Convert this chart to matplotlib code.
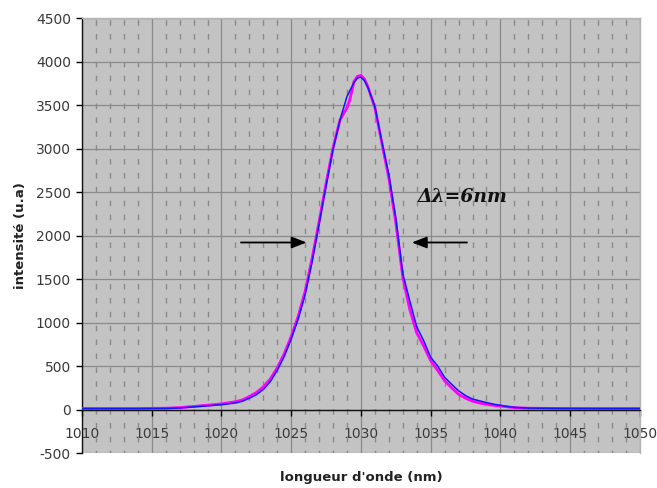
import matplotlib
matplotlib.use("Agg")
import matplotlib.pyplot as plt
from matplotlib.ticker import MultipleLocator

plt.rcParams["axes.unicode_minus"] = False
plt.rcParams["font.family"] = ["DejaVu Sans"]

# ---- data ----
wl_blue = [1010, 1012, 1014, 1016, 1017, 1018, 1019, 1020, 1021, 1021.5, 1022, 1022.5,
           1023, 1023.5, 1024, 1024.5, 1025, 1025.5, 1026, 1026.5, 1027, 1027.5, 1028,
           1028.5, 1029, 1029.5, 1029.75, 1030, 1030.25, 1030.5, 1031, 1031.5, 1032,
           1032.5, 1033, 1033.5, 1034, 1034.5, 1035, 1035.5, 1036, 1036.5, 1037, 1037.5,
           1038, 1038.5, 1039, 1039.5, 1040, 1040.5, 1041, 1041.5, 1042, 1044, 1047, 1050]
int_blue = [10, 10, 10, 12, 18, 30, 42, 55, 75, 95, 130, 170,
            230, 320, 450, 610, 810, 1040, 1320, 1700, 2130, 2570, 2990,
            3330, 3600, 3760, 3810, 3820, 3780, 3700, 3480, 3080, 2700,
            2200, 1560, 1250, 950, 790, 600, 500, 370, 290, 215, 160,
            120, 100, 80, 62, 48, 35, 25, 20, 16, 12, 10, 10]

wl_mag = [1010, 1012, 1014, 1016, 1017, 1018, 1019, 1020, 1021, 1021.5, 1022, 1022.5,
          1023, 1023.5, 1024, 1024.5, 1025, 1025.5, 1026, 1026.5, 1027, 1027.5, 1028,
          1028.5, 1029, 1029.2, 1029.5, 1029.75, 1030, 1030.25, 1030.5, 1031, 1031.5,
          1032, 1032.5, 1033, 1033.5, 1034, 1034.5, 1035, 1035.5, 1036, 1036.5, 1037,
          1037.5, 1038, 1038.5, 1039, 1039.5, 1040, 1040.5, 1041, 1041.5, 1042, 1044,
          1047, 1050]
int_mag = [12, 12, 12, 15, 22, 35, 50, 65, 90, 110, 150, 195,
           260, 350, 480, 640, 840, 1070, 1360, 1740, 2160, 2600, 3010,
           3330, 3470, 3560, 3770, 3830, 3840, 3800, 3710, 3470, 3060,
           2660, 2150, 1520, 1150, 880, 730, 560, 450, 330, 250, 175,
           130, 95, 75, 60, 48, 40, 30, 22, 18, 15, 12,
           12, 12]

x_ticks = [1010, 1015, 1020, 1025, 1030, 1035, 1040, 1045, 1050]
y_ticks = [-500, 0, 500, 1000, 1500, 2000, 2500, 3000, 3500, 4000, 4500]

fig = plt.figure(figsize=(6.57, 4.88), dpi=100)
ax = fig.add_axes([0.1248, 0.0717, 0.8492, 0.8913])
ax.set_facecolor("#c3c3c3")

ax.set_xlim(1010, 1050)
ax.set_ylim(-500, 4500)
ax.set_xticks(x_ticks)
ax.set_yticks(y_ticks)
ax.xaxis.set_minor_locator(MultipleLocator(1))

# grid
ax.grid(which="major", axis="both", color="#8a8a8a", linewidth=0.9, linestyle="-")
ax.grid(which="minor", axis="x", color="#8a8a8a", linewidth=1.0, linestyle=(2, (4, 6)))
ax.set_axisbelow(True)
ax.tick_params(which="minor", length=0)

# curves
ax.plot(wl_mag, int_mag, color="#ff00ff", linewidth=2.0, zorder=3)
ax.plot(wl_blue, int_blue, color="#1414ff", linewidth=1.1, zorder=4)

# spines
ax.spines["bottom"].set_position(("data", 0))
ax.spines["bottom"].set_color("#111111")
ax.spines["bottom"].set_linewidth(1.0)
ax.spines["left"].set_color("#111111")
ax.spines["left"].set_linewidth(1.0)
for s in ("top", "right"):
    ax.spines[s].set_color("#b4b4b4")
    ax.spines[s].set_linewidth(1.0)

ax.tick_params(axis="x", which="major", direction="out", length=4, width=1,
               pad=8.5, labelsize=10, labelcolor="#3a3a3a")
ax.tick_params(axis="y", which="major", direction="out", length=4, width=1,
               pad=4, labelsize=10, labelcolor="#3a3a3a")

ax.set_xlabel("longueur d'onde (nm)", fontsize=9.5, fontweight="bold", color="#222222")
ax.xaxis.set_label_coords(0.5, -0.042)
ax.set_ylabel("intensité (u.a)", fontsize=9.5, fontweight="bold", color="#222222")
ax.yaxis.set_label_coords(-0.099, 0.499)

# annotations
arrow_y = 1920
ax.annotate("", xy=(1026.3, arrow_y), xytext=(1021.2, arrow_y),
            arrowprops=dict(arrowstyle="-|>,head_length=0.9,head_width=0.35",
                            color="black", lw=1.3), zorder=5)
ax.annotate("", xy=(1033.45, arrow_y), xytext=(1037.8, arrow_y),
            arrowprops=dict(arrowstyle="-|>,head_length=0.9,head_width=0.35",
                            color="black", lw=1.3), zorder=5)
ax.text(1034.05, 2440, "Δλ=6nm", fontsize=13.5, fontweight="bold", fontstyle="italic",
        family="DejaVu Serif", va="center", ha="left", color="#111111", zorder=5)

fig.savefig("out.png", dpi=100)
